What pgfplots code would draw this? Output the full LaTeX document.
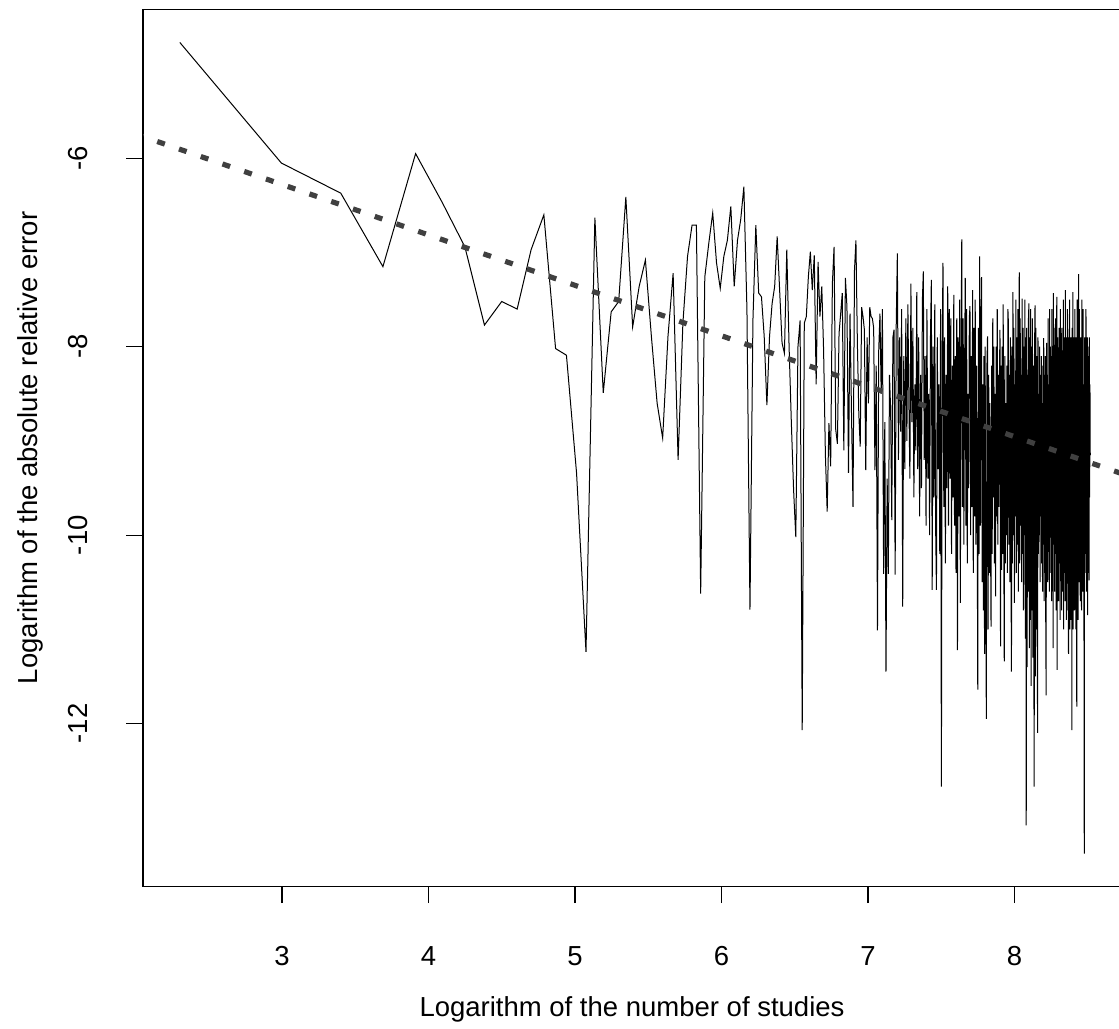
\documentclass[border=0pt]{standalone}
\usepackage{fontspec}
\setmainfont{Liberation Sans}
\usepackage{pgfplots}
\usepackage{pgfplotstable}
\pgfplotsset{compat=1.18}
\definecolor{dashgray}{RGB}{64,64,64}

\pgfplotstableread[row sep=\\]{
n y\\
10 -4.77\\ 20 -6.05\\ 30 -6.37\\ 40 -7.15\\ 50 -5.95\\ 60 -6.47\\ 70 -6.94\\ 80 -7.77\\ 90 -7.52\\ 100 -7.60\\
110 -6.97\\ 120 -6.60\\ 130 -8.02\\ 140 -8.09\\ 150 -9.34\\ 160 -11.24\\ 170 -6.63\\ 180 -8.49\\ 190 -7.63\\ 200 -7.52\\
210 -6.41\\ 220 -7.79\\ 230 -7.36\\ 240 -7.08\\ 250 -7.89\\ 260 -8.60\\ 270 -8.97\\ 280 -7.89\\ 290 -7.22\\ 300 -9.20\\
310 -7.75\\ 320 -7.04\\ 330 -6.71\\ 340 -6.71\\ 350 -10.62\\ 360 -7.26\\ 370 -6.90\\ 380 -6.58\\ 390 -7.11\\ 400 -7.38\\
410 -7.04\\ 420 -6.87\\ 430 -6.51\\ 440 -7.36\\ 450 -6.87\\ 460 -6.65\\ 470 -6.30\\ 480 -7.61\\ 490 -10.79\\ 500 -7.72\\
510 -6.71\\ 520 -7.43\\ 530 -7.47\\ 540 -7.89\\ 550 -8.62\\ 560 -7.89\\ 570 -7.54\\ 580 -7.36\\ 590 -6.83\\ 600 -7.40\\
610 -7.96\\ 620 -8.07\\ 630 -6.97\\ 640 -8.00\\ 650 -8.81\\ 660 -9.52\\ 670 -10.02\\ 680 -8.00\\ 690 -7.72\\ 700 -12.07\\
710 -7.75\\ 720 -7.68\\ 730 -7.26\\ 740 -6.99\\ 750 -7.40\\ 760 -7.03\\ 770 -8.40\\ 780 -7.10\\ 790 -7.68\\ 800 -7.36\\
810 -8.04\\ 820 -9.15\\ 830 -9.75\\ 840 -8.81\\ 850 -9.27\\ 860 -7.33\\ 870 -6.94\\ 880 -8.88\\ 890 -9.03\\ 900 -7.86\\
910 -7.65\\ 920 -7.43\\ 930 -9.10\\ 940 -7.27\\ 950 -7.58\\ 960 -9.34\\ 970 -7.65\\ 980 -8.71\\ 990 -9.70\\ 1000 -7.19\\
1010 -6.87\\ 1020 -7.96\\ 1030 -8.71\\ 1040 -9.06\\ 1050 -7.58\\ 1060 -7.68\\ 1070 -7.82\\ 1080 -9.31\\ 1090 -7.90\\ 1100 -8.60\\
1110 -7.58\\ 1120 -7.68\\ 1130 -7.70\\ 1140 -7.80\\ 1150 -9.31\\ 1160 -8.20\\ 1170 -11.01\\ 1180 -8.04\\ 1190 -7.65\\ 1200 -8.50\\
1210 -7.60\\ 1220 -10.41\\ 1230 -8.80\\ 1240 -11.45\\ 1250 -9.40\\ 1260 -10.41\\ 1270 -8.30\\ 1280 -8.67\\ 1290 -9.84\\ 1300 -7.90\\
1310 -7.82\\ 1320 -10.42\\ 1330 -7.75\\ 1340 -7.01\\ 1350 -9.20\\ 1360 -7.90\\ 1370 -8.90\\ 1380 -7.60\\ 1390 -10.76\\ 1400 -8.10\\
1410 -9.30\\ 1420 -7.70\\ 1430 -9.00\\ 1440 -7.55\\ 1450 -8.60\\ 1460 -9.40\\ 1470 -7.33\\ 1480 -8.80\\ 1490 -7.80\\ 1500 -9.60\\
1510 -8.40\\ 1520 -9.10\\ 1530 -7.42\\ 1540 -9.30\\ 1550 -7.90\\ 1560 -9.80\\ 1570 -8.30\\ 1580 -9.50\\ 1590 -7.50\\ 1600 -7.20\\
1610 -9.20\\ 1620 -8.10\\ 1630 -9.90\\ 1640 -7.60\\ 1650 -9.40\\ 1660 -8.50\\ 1670 -10.00\\ 1680 -7.90\\ 1690 -7.29\\ 1700 -10.58\\
1710 -8.00\\ 1720 -9.60\\ 1730 -7.55\\ 1740 -9.90\\ 1750 -10.58\\ 1760 -7.90\\ 1770 -9.30\\ 1780 -8.40\\ 1790 -10.20\\ 1800 -7.60\\
1810 -12.67\\ 1820 -8.00\\ 1830 -7.11\\ 1840 -9.70\\ 1850 -7.90\\ 1860 -10.30\\ 1870 -8.30\\ 1880 -9.50\\ 1890 -7.36\\ 1900 -9.90\\
1910 -7.60\\ 1920 -9.40\\ 1930 -7.70\\ 1940 -10.20\\ 1950 -8.20\\ 1960 -9.60\\ 1970 -7.45\\ 1980 -9.90\\ 1990 -8.10\\ 2000 -10.40\\
2010 -7.70\\ 2020 -11.22\\ 2030 -7.90\\ 2040 -9.80\\ 2050 -7.50\\ 2060 -10.72\\ 2070 -8.00\\ 2080 -6.86\\ 2090 -9.70\\ 2100 -7.70\\
2110 -10.10\\ 2120 -8.30\\ 2130 -7.27\\ 2140 -9.90\\ 2150 -7.60\\ 2160 -10.30\\ 2170 -8.50\\ 2180 -9.50\\ 2190 -7.70\\ 2200 -7.57\\
2210 -10.00\\ 2220 -8.10\\ 2230 -9.70\\ 2240 -7.40\\ 2250 -10.40\\ 2260 -7.80\\ 2270 -9.80\\ 2280 -7.50\\ 2290 -10.10\\ 2300 -8.20\\
2310 -9.60\\ 2320 -11.64\\ 2330 -7.80\\ 2340 -10.20\\ 2350 -7.04\\ 2360 -9.90\\ 2370 -8.00\\ 2380 -7.26\\ 2390 -10.50\\ 2400 -8.40\\
2410 -10.80\\ 2420 -8.10\\ 2430 -11.26\\ 2440 -8.00\\ 2450 -10.60\\ 2460 -11.95\\ 2470 -8.20\\ 2480 -7.89\\ 2490 -11.00\\ 2500 -8.30\\
2510 -10.40\\ 2520 -8.60\\ 2530 -9.90\\ 2540 -10.97\\ 2550 -8.20\\ 2560 -10.20\\ 2570 -7.70\\ 2580 -9.60\\ 2590 -8.00\\ 2600 -10.30\\
2610 -8.50\\ 2620 -10.65\\ 2630 -8.00\\ 2640 -9.80\\ 2650 -7.60\\ 2660 -10.10\\ 2670 -8.30\\ 2680 -9.70\\ 2690 -8.30\\ 2700 -7.82\\
2710 -11.18\\ 2720 -8.20\\ 2730 -10.37\\ 2740 -8.00\\ 2750 -10.20\\ 2760 -7.55\\ 2770 -9.90\\ 2780 -11.34\\ 2790 -8.10\\ 2800 -10.30\\
2810 -8.60\\ 2820 -10.00\\ 2830 -8.20\\ 2840 -10.40\\ 2850 -7.60\\ 2860 -7.75\\ 2870 -10.10\\ 2880 -8.30\\ 2890 -10.50\\ 2900 -7.90\\
2910 -10.20\\ 2920 -11.45\\ 2930 -8.00\\ 2940 -10.30\\ 2950 -7.42\\ 2960 -10.00\\ 2970 -7.80\\ 2980 -10.72\\ 2990 -8.40\\ 3000 -9.80\\
3010 -7.50\\ 3020 -10.40\\ 3030 -7.90\\ 3040 -10.10\\ 3050 -7.60\\ 3060 -10.60\\ 3070 -8.20\\ 3080 -7.21\\ 3090 -10.30\\ 3100 -7.70\\
3110 -9.90\\ 3120 -8.30\\ 3130 -10.50\\ 3140 -7.49\\ 3150 -10.20\\ 3160 -7.80\\ 3170 -10.80\\ 3180 -8.00\\ 3190 -10.00\\ 3200 -7.50\\
3210 -11.10\\ 3220 -7.90\\ 3230 -13.08\\ 3240 -7.80\\ 3250 -11.40\\ 3260 -8.30\\ 3270 -10.60\\ 3280 -7.70\\ 3290 -7.54\\ 3300 -11.20\\
3310 -7.90\\ 3320 -10.90\\ 3330 -7.60\\ 3340 -11.60\\ 3350 -8.00\\ 3360 -10.80\\ 3370 -7.70\\ 3380 -11.30\\ 3390 -8.20\\ 3400 -10.70\\
3410 -12.67\\ 3420 -8.00\\ 3430 -7.56\\ 3440 -11.50\\ 3450 -7.80\\ 3460 -11.00\\ 3470 -8.10\\ 3480 -10.40\\ 3490 -12.10\\ 3500 -7.90\\
3510 -10.20\\ 3520 -8.50\\ 3530 -10.00\\ 3540 -8.00\\ 3550 -10.50\\ 3560 -8.30\\ 3570 -9.80\\ 3580 -8.10\\ 3590 -10.30\\ 3600 -8.60\\
3610 -10.60\\ 3620 -8.20\\ 3630 -10.10\\ 3640 -7.91\\ 3650 -10.70\\ 3660 -8.30\\ 3670 -10.40\\ 3680 -8.10\\ 3690 -10.90\\ 3700 -11.70\\
3710 -7.96\\ 3720 -10.20\\ 3730 -8.30\\ 3740 -10.50\\ 3750 -7.70\\ 3760 -10.00\\ 3770 -8.40\\ 3780 -10.60\\ 3790 -7.60\\ 3800 -9.90\\
3810 -8.00\\ 3820 -10.40\\ 3830 -8.10\\ 3840 -10.70\\ 3850 -7.60\\ 3860 -10.30\\ 3870 -8.20\\ 3880 -11.20\\ 3890 -7.43\\ 3900 -10.10\\
3910 -7.80\\ 3920 -10.60\\ 3930 -8.30\\ 3940 -10.20\\ 3950 -7.70\\ 3960 -10.80\\ 3970 -8.10\\ 3980 -7.47\\ 3990 -11.43\\ 4000 -7.90\\
4010 -10.50\\ 4020 -8.40\\ 4030 -10.70\\ 4040 -7.80\\ 4050 -10.30\\ 4060 -8.10\\ 4070 -10.90\\ 4080 -7.60\\ 4090 -10.40\\ 4100 -8.20\\
4110 -10.80\\ 4120 -7.80\\ 4130 -10.20\\ 4140 -8.30\\ 4150 -10.60\\ 4160 -7.50\\ 4170 -11.00\\ 4180 -8.10\\ 4190 -10.40\\ 4200 -7.90\\
4210 -10.70\\ 4220 -7.40\\ 4230 -10.50\\ 4240 -7.90\\ 4250 -10.90\\ 4260 -8.40\\ 4270 -10.30\\ 4280 -7.60\\ 4290 -10.80\\ 4300 -8.10\\
4310 -11.26\\ 4320 -7.90\\ 4330 -10.60\\ 4340 -7.50\\ 4350 -11.00\\ 4360 -8.00\\ 4370 -10.40\\ 4380 -7.90\\ 4390 -10.90\\ 4400 -8.30\\
4410 -12.07\\ 4420 -7.80\\ 4430 -10.70\\ 4440 -7.42\\ 4450 -11.00\\ 4460 -7.90\\ 4470 -10.50\\ 4480 -8.20\\ 4490 -10.80\\ 4500 -7.60\\
4510 -10.30\\ 4520 -8.10\\ 4530 -11.00\\ 4540 -7.90\\ 4550 -10.60\\ 4560 -11.82\\ 4570 -7.50\\ 4580 -10.40\\ 4590 -8.00\\ 4600 -10.90\\
4610 -7.70\\ 4620 -7.23\\ 4630 -10.50\\ 4640 -7.60\\ 4650 -10.20\\ 4660 -8.30\\ 4670 -10.70\\ 4680 -7.90\\ 4690 -10.30\\ 4700 -8.10\\
4710 -10.80\\ 4720 -7.50\\ 4730 -10.10\\ 4740 -8.00\\ 4750 -10.60\\ 4760 -7.60\\ 4770 -10.30\\ 4780 -8.40\\ 4790 -10.90\\ 4800 -13.38\\
4810 -7.90\\ 4820 -10.40\\ 4830 -8.00\\ 4840 -10.20\\ 4850 -7.60\\ 4860 -7.72\\ 4870 -10.60\\ 4880 -8.10\\ 4890 -10.00\\ 4900 -7.90\\
4910 -10.85\\ 4920 -8.00\\ 4930 -9.80\\ 4940 -8.10\\ 4950 -10.20\\ 4960 -10.48\\ 4970 -7.90\\ 4980 -9.60\\ 4990 -8.40\\ 5000 -9.15\\
}\errdata

\pgfplotstableread[row sep=\\]{
x y\\
2.0 -5.742\\
8.8 -9.383\\
}\fitdata

\begin{document}
\begin{tikzpicture}
\begin{axis}[
  scale only axis,
  width=489pt, height=438.6pt,
  xmin=2.0512, xmax=8.727,
  ymin=-13.730, ymax=-4.418,
  axis line style={line width=0.6pt, black},
  tick pos=left,
  tick align=outside,
  major tick length=8.3pt,
  tick style={line width=0.6pt, black},
  xtick={3,4,5,6,7,8},
  xticklabels={3,4,5,6,7,8},
  ytick={-12,-10,-8,-6},
  yticklabels={-12,-10,-8,-6},
  tick label style={font=\fontsize{13.75}{16}\selectfont},
  xticklabel style={anchor=base},
  xticklabel shift=31.4pt,
  yticklabel style={rotate=90, anchor=base},
  yticklabel shift=19.5pt,
  label style={font=\fontsize{13.75}{16}\selectfont},
  xlabel={Logarithm of the number of studies},
  ylabel={Logarithm of the absolute relative error},
  xlabel style={at={(axis description cs:0.5,-0.14843)}, anchor=base},
  ylabel style={at={(axis description cs:-0.10767,0.5)}, anchor=base},
]
\addplot[black, line width=0.5pt, line join=miter] table[x expr={ln(\thisrow{n})}, y=y] {\errdata};
\addplot[dashgray, line width=2.6pt, dash pattern=on 4pt off 7.5pt] table[x=x, y=y] {\fitdata};
\coordinate (bbl) at (rel axis cs:-0.14622,-0.16131);
\coordinate (btr) at (rel axis cs:0.99796,1.01060);
\end{axis}
\pgfresetboundingbox
\path[use as bounding box] (bbl) rectangle (btr);
\end{tikzpicture}
\end{document}
